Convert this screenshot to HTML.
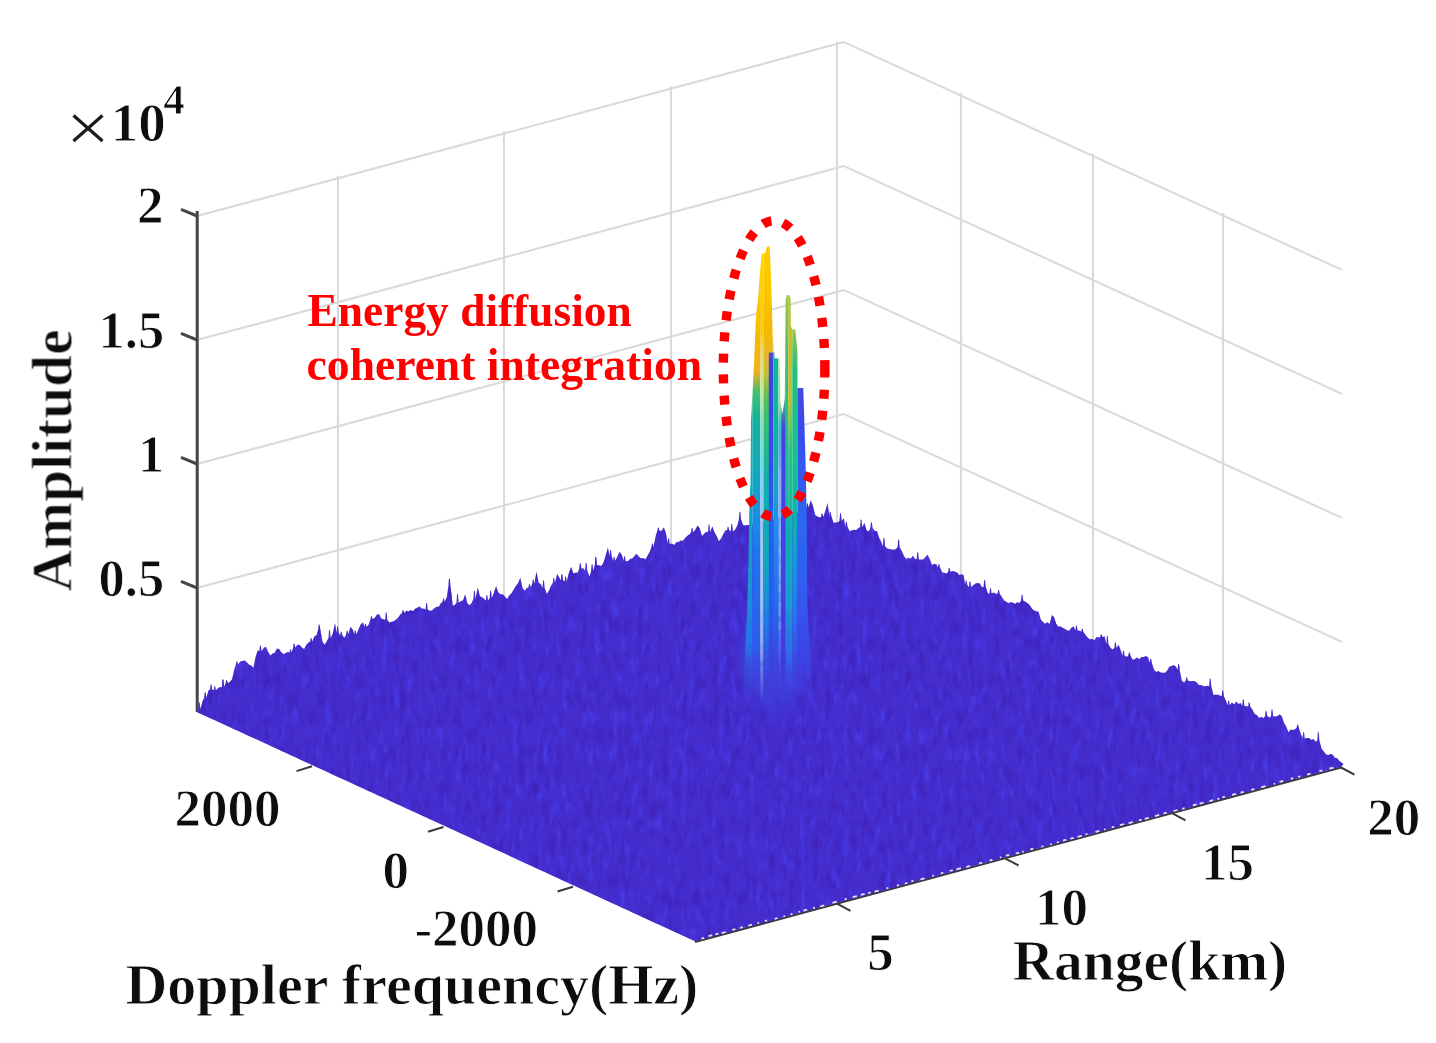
<!DOCTYPE html>
<html><head><meta charset="utf-8"><title>Range-Doppler surface</title>
<style>html,body{margin:0;padding:0;background:#fff;}svg{display:block;}
text{font-family:"Liberation Serif",serif;font-weight:bold;fill:#111;stroke:#fff;stroke-width:0.9px;stroke-linejoin:round;}</style></head>
<body><svg width="1436" height="1043" viewBox="0 0 1436 1043">
<defs>
<filter id="tex" x="0" y="0" width="100%" height="100%" color-interpolation-filters="sRGB">
 <feTurbulence type="fractalNoise" baseFrequency="0.16 0.055" numOctaves="2" seed="3" result="n"/>
 <feColorMatrix in="n" type="matrix" values="0 0 0 0 0.29  0 0 0 0 0.24  0 0 0 0 0.92  3 0 0 0 -1.5" />
</filter>
<filter id="tex2" x="0" y="0" width="100%" height="100%" color-interpolation-filters="sRGB">
 <feTurbulence type="fractalNoise" baseFrequency="0.16 0.055" numOctaves="2" seed="11" result="n"/>
 <feColorMatrix in="n" type="matrix" values="0 0 0 0 0.25  0 0 0 0 0.13  0 0 0 0 0.72  3 0 0 0 -1.5" />
</filter>
<filter id="blur6"><feGaussianBlur stdDeviation="7"/></filter>
<filter id="tblur" x="-5%" y="-5%" width="110%" height="110%"><feGaussianBlur stdDeviation="0.45"/></filter>
<filter id="gblur" x="-1%" y="-1%" width="102%" height="102%"><feGaussianBlur stdDeviation="0.5"/></filter>
<filter id="blur1"><feGaussianBlur stdDeviation="0.6"/></filter>
<clipPath id="surf"><polygon points="196.7,712.0 198.3,708.9 198.9,702.0 199.8,702.8 200.4,708.9 202.6,701.3 204.2,698.1 204.8,692.0 205.7,692.8 206.3,698.1 208.5,690.4 210.1,689.5 210.7,684.0 211.6,684.8 212.2,689.5 213.8,690.2 214.4,685.9 215.3,686.7 215.9,690.2 218.1,688.0 220.3,686.9 221.9,687.2 222.5,679.1 223.4,679.9 224.0,687.2 225.6,683.6 226.2,679.9 227.1,680.7 227.7,683.6 229.9,682.0 232.1,679.3 234.3,669.6 235.9,664.6 236.5,661.2 237.4,662.0 238.0,664.6 240.2,661.8 242.4,660.9 244.6,660.6 246.8,662.2 249.0,664.7 251.2,665.6 253.4,667.8 255.6,656.8 257.8,650.3 259.4,651.4 260.0,645.5 260.9,646.3 261.5,651.4 263.7,648.0 265.9,646.7 268.1,651.7 270.3,655.5 272.5,653.6 274.7,652.7 276.9,648.5 279.1,649.1 281.3,652.3 283.5,654.3 285.7,653.1 287.9,652.0 289.5,652.4 290.1,649.1 291.0,649.9 291.6,652.4 293.2,647.8 293.8,643.3 294.7,644.1 295.3,647.8 297.5,644.7 299.7,644.9 301.9,647.6 304.1,648.9 306.3,644.7 308.5,642.4 310.1,641.8 310.7,637.7 311.6,638.5 312.2,641.8 314.4,636.2 316.6,634.9 318.2,629.8 318.8,624.3 319.7,625.1 320.3,629.8 322.5,641.8 324.7,645.0 326.9,640.7 328.5,638.1 329.1,629.7 330.0,630.5 330.6,638.1 332.8,633.4 335.0,622.9 336.6,632.7 337.2,625.9 338.1,626.7 338.7,632.7 340.3,635.6 340.9,631.4 341.8,632.2 342.4,635.6 344.6,637.8 346.2,634.3 346.8,630.4 347.7,631.2 348.3,634.3 350.5,627.1 352.7,629.4 354.3,634.5 354.9,629.9 355.8,630.7 356.4,634.5 358.6,629.0 360.8,624.3 363.0,622.5 364.6,627.2 365.2,623.6 366.1,624.4 366.7,627.2 368.9,624.3 370.5,619.0 371.1,615.9 372.0,616.7 372.6,619.0 374.8,617.8 377.0,614.4 379.2,614.2 381.4,618.7 383.6,619.3 385.2,619.7 385.8,612.1 386.7,612.9 387.3,619.7 389.5,622.7 391.7,621.8 393.9,621.3 396.1,619.4 398.3,617.4 400.5,614.2 402.1,613.1 402.7,609.9 403.6,610.7 404.2,613.1 406.4,610.7 408.6,611.4 410.8,610.1 413.0,611.2 415.2,608.8 417.4,607.8 419.6,606.6 421.8,608.8 424.0,608.4 425.6,609.7 426.2,602.8 427.1,603.6 427.7,609.7 429.9,610.7 432.1,610.6 434.3,608.3 436.5,606.8 438.7,606.8 440.9,603.1 442.5,602.1 443.1,598.3 444.0,599.1 444.6,602.1 446.8,597.1 448.4,586.1 449.0,578.2 449.9,579.0 450.5,586.1 452.7,605.8 454.9,605.1 456.5,602.7 457.1,593.8 458.0,594.6 458.6,602.7 460.8,601.2 463.0,600.3 465.2,594.3 467.4,603.3 469.6,605.3 471.8,602.8 473.4,599.0 474.0,590.5 474.9,591.3 475.5,599.0 477.7,587.4 479.9,596.2 482.1,597.2 484.3,598.9 485.9,600.5 486.5,594.9 487.4,595.7 488.0,600.5 489.6,598.3 490.2,590.5 491.1,591.3 491.7,598.3 493.9,592.8 496.1,586.0 498.3,592.5 500.5,594.5 502.7,594.6 504.9,596.4 507.1,598.9 509.3,595.3 511.5,593.3 513.7,589.4 515.9,586.1 518.1,582.9 520.3,577.7 522.5,587.9 524.7,590.7 526.9,588.0 528.5,587.4 529.1,583.7 530.0,584.5 530.6,587.4 532.2,583.7 532.8,579.2 533.7,580.0 534.3,583.7 536.5,571.7 538.7,583.0 540.9,583.9 542.5,588.2 543.1,579.9 544.0,580.7 544.6,588.2 546.8,593.8 549.0,590.6 551.2,585.6 552.8,583.0 553.4,577.4 554.3,578.2 554.9,583.0 557.1,573.7 559.3,577.5 560.9,580.3 561.5,574.0 562.4,574.8 563.0,580.3 564.6,581.4 565.2,576.4 566.1,577.2 566.7,581.4 568.9,572.8 571.1,567.1 573.3,573.4 575.5,572.8 577.7,572.4 579.3,568.5 579.9,563.0 580.8,563.8 581.4,568.5 583.6,568.6 585.2,570.9 585.8,562.4 586.7,563.2 587.3,570.9 589.5,576.4 591.1,570.9 591.7,563.8 592.6,564.6 593.2,570.9 594.8,565.1 595.4,556.5 596.3,557.3 596.9,565.1 599.1,565.2 601.3,566.1 603.5,562.4 605.7,555.5 607.9,547.5 609.5,555.9 610.1,549.7 611.0,550.5 611.6,555.9 613.2,560.8 613.8,556.8 614.7,557.6 615.3,560.8 617.5,556.2 619.7,551.8 621.9,555.2 623.5,561.0 624.1,555.9 625.0,556.7 625.6,561.0 627.8,561.3 630.0,559.1 632.2,558.5 634.4,556.1 636.6,553.8 638.8,556.5 641.0,558.3 643.2,558.0 645.4,559.3 647.6,555.4 649.8,551.4 651.4,547.0 652.0,543.3 652.9,544.1 653.5,547.0 655.7,535.8 657.3,530.8 657.9,527.3 658.8,528.1 659.4,530.8 661.6,530.8 663.8,527.6 666.0,533.9 667.6,544.0 668.2,538.3 669.1,539.1 669.7,544.0 671.9,543.4 674.1,545.0 676.3,542.3 678.5,541.9 680.7,540.5 682.9,540.7 685.1,538.1 687.3,535.8 689.5,534.3 691.1,532.2 691.7,527.4 692.6,528.2 693.2,532.2 695.4,529.5 697.6,525.8 699.8,528.2 702.0,536.0 704.2,533.4 706.4,531.8 708.0,532.3 708.6,524.3 709.5,525.1 710.1,532.3 712.3,526.2 714.5,532.2 716.7,535.9 718.9,541.2 721.1,538.4 723.3,534.0 725.5,530.2 727.1,530.3 727.7,526.5 728.6,527.3 729.2,530.3 730.8,531.5 731.4,523.5 732.3,524.3 732.9,531.5 735.1,529.7 737.3,525.5 738.9,519.3 739.5,511.5 740.4,512.3 741.0,519.3 743.2,525.1 745.4,525.4 747.6,525.0 749.8,524.9 752.0,524.2 754.2,523.6 756.4,523.0 758.6,522.4 760.8,521.8 763.0,521.4 765.2,521.0 767.4,520.5 769.6,520.1 771.8,519.6 774.0,519.2 776.2,518.8 778.4,518.3 780.6,517.8 782.8,517.2 785.0,516.5 787.2,515.8 789.4,515.2 791.6,514.5 793.8,513.9 796.0,513.2 798.2,512.5 800.4,511.7 802.6,510.1 804.8,508.5 806.4,507.6 807.0,503.0 807.9,503.8 808.5,507.6 810.7,500.3 812.9,505.4 815.1,514.7 817.3,516.5 819.5,517.4 821.1,517.0 821.7,513.1 822.6,513.9 823.2,517.0 825.4,510.8 827.6,503.1 829.2,516.1 829.8,511.5 830.7,512.3 831.3,516.1 833.5,522.5 835.7,522.8 837.9,522.3 839.5,521.2 840.1,512.9 841.0,513.7 841.6,521.2 843.8,518.1 845.4,527.1 846.0,521.4 846.9,522.2 847.5,527.1 849.7,531.2 851.9,530.2 854.1,529.7 856.3,529.9 858.5,528.0 860.1,527.2 860.7,519.2 861.6,520.0 862.2,527.2 864.4,523.1 866.6,530.4 868.8,531.3 870.4,528.0 871.0,522.0 871.9,522.8 872.5,528.0 874.7,530.9 876.9,531.1 879.1,537.7 881.3,542.1 882.9,546.2 883.5,537.7 884.4,538.5 885.0,546.2 887.2,548.5 889.4,548.9 891.6,549.5 893.8,549.7 896.0,548.9 897.6,547.2 898.2,539.2 899.1,540.0 899.7,547.2 901.9,551.2 904.1,556.2 906.3,558.9 908.5,557.8 910.7,558.7 912.9,555.7 915.1,559.1 916.7,559.4 917.3,552.0 918.2,552.8 918.8,559.4 921.0,559.6 923.2,559.5 925.4,557.1 927.6,554.8 929.8,559.2 932.0,564.9 934.2,563.9 936.4,564.3 938.0,567.5 938.6,563.6 939.5,564.4 940.1,567.5 942.3,572.4 944.5,572.8 946.7,573.6 948.3,571.7 948.9,567.6 949.8,568.4 950.4,571.7 952.6,570.9 954.8,571.5 957.0,572.6 959.2,575.0 961.4,574.2 963.6,575.1 965.2,584.8 965.8,580.1 966.7,580.9 967.3,584.8 968.9,587.2 969.5,581.2 970.4,582.0 971.0,587.2 973.2,585.2 975.4,583.5 977.6,582.9 979.8,583.6 982.0,587.2 983.6,587.1 984.2,579.8 985.1,580.6 985.7,587.1 987.9,593.7 989.5,593.2 990.1,587.9 991.0,588.7 991.6,593.2 993.8,592.4 996.0,594.0 997.6,593.6 998.2,589.7 999.1,590.5 999.7,593.6 1001.9,597.3 1004.1,600.6 1006.3,601.7 1008.5,603.2 1010.7,602.1 1012.9,602.7 1015.1,603.9 1017.3,602.3 1019.5,602.9 1021.1,600.4 1021.7,594.3 1022.6,595.1 1023.2,600.4 1025.4,601.7 1027.6,603.2 1029.8,605.2 1032.0,608.8 1034.2,610.5 1036.4,611.2 1038.6,611.7 1040.8,619.6 1043.0,622.0 1045.2,623.7 1047.4,622.2 1049.6,624.0 1051.8,614.9 1054.0,617.0 1056.2,623.8 1058.4,626.7 1060.6,626.4 1062.8,628.0 1065.0,629.0 1067.2,630.5 1069.4,630.4 1071.6,627.5 1073.8,626.5 1075.4,630.6 1076.0,625.2 1076.9,626.0 1077.5,630.6 1079.7,630.7 1081.3,631.8 1081.9,628.5 1082.8,629.3 1083.4,631.8 1085.6,634.9 1087.8,637.7 1090.0,639.5 1092.2,638.8 1094.4,640.2 1096.6,637.0 1098.8,637.6 1100.4,637.1 1101.0,634.1 1101.9,634.9 1102.5,637.1 1104.7,636.4 1106.3,644.2 1106.9,635.4 1107.8,636.2 1108.4,644.2 1110.6,648.0 1112.8,649.4 1114.4,647.7 1115.0,641.9 1115.9,642.7 1116.5,647.7 1118.7,645.1 1120.9,650.7 1122.5,655.8 1123.1,650.3 1124.0,651.1 1124.6,655.8 1126.8,657.0 1128.4,655.6 1129.0,652.3 1129.9,653.1 1130.5,655.6 1132.7,659.8 1134.9,659.0 1137.1,657.6 1139.3,659.3 1141.5,657.0 1143.7,657.0 1145.9,655.9 1148.1,657.3 1149.7,663.2 1150.3,658.8 1151.2,659.6 1151.8,663.2 1154.0,669.5 1156.2,672.0 1158.4,670.9 1160.6,672.6 1162.8,672.7 1165.0,672.8 1167.2,670.4 1169.4,666.5 1171.6,666.1 1173.8,665.1 1176.0,666.8 1177.6,670.2 1178.2,663.9 1179.1,664.7 1179.7,670.2 1181.9,680.7 1184.1,682.4 1185.7,680.5 1186.3,676.9 1187.2,677.7 1187.8,680.5 1190.0,681.2 1192.2,681.0 1194.4,681.0 1196.6,682.3 1198.8,685.0 1201.0,685.1 1203.2,686.0 1205.4,686.2 1207.6,685.7 1209.2,686.5 1209.8,678.2 1210.7,679.0 1211.3,686.5 1213.5,694.9 1215.7,694.4 1217.9,694.7 1220.1,695.6 1221.7,696.2 1222.3,690.3 1223.2,691.1 1223.8,696.2 1226.0,700.9 1227.6,705.2 1228.2,700.5 1229.1,701.3 1229.7,705.2 1231.9,702.6 1234.1,704.5 1236.3,701.5 1238.5,703.9 1240.7,703.0 1242.3,705.9 1242.9,699.3 1243.8,700.1 1244.4,705.9 1246.6,706.3 1248.2,706.4 1248.8,702.2 1249.7,703.0 1250.3,706.4 1252.5,709.7 1254.7,714.0 1256.9,715.1 1259.1,717.9 1261.3,716.8 1263.5,718.3 1265.1,716.1 1265.7,710.7 1266.6,711.5 1267.2,716.1 1269.4,717.6 1271.0,716.2 1271.6,709.0 1272.5,709.8 1273.1,716.2 1275.3,716.6 1277.5,715.9 1279.7,714.3 1281.9,716.5 1284.1,723.1 1286.3,726.8 1288.5,732.5 1290.7,729.6 1292.9,730.0 1295.1,729.2 1296.7,727.4 1297.3,724.3 1298.2,725.1 1298.8,727.4 1301.0,734.6 1302.6,738.6 1303.2,731.9 1304.1,732.7 1304.7,738.6 1306.9,738.0 1309.1,738.0 1311.3,739.7 1313.5,739.1 1315.7,741.8 1317.3,740.6 1317.9,731.9 1318.8,732.7 1319.4,740.6 1321.6,749.1 1323.8,751.5 1326.0,754.3 1328.2,755.2 1330.4,754.1 1332.6,754.5 1334.8,757.7 1337.0,757.9 1339.2,760.8 1343.5,763.9 1341.0,766.7 1333.8,768.6 1326.6,770.6 1319.5,772.5 1312.3,774.5 1305.1,776.4 1297.9,778.3 1290.8,780.3 1283.6,782.2 1276.4,784.2 1269.2,786.1 1262.0,788.0 1254.9,790.0 1247.7,791.9 1240.5,793.8 1233.3,795.8 1226.2,797.7 1219.0,799.7 1211.8,801.6 1204.6,803.5 1197.4,805.5 1190.3,807.4 1183.1,809.4 1175.9,811.3 1168.7,813.2 1161.6,815.2 1154.4,817.1 1147.2,819.1 1140.0,821.0 1132.8,822.9 1125.7,824.9 1118.5,826.8 1111.3,828.7 1104.1,830.7 1097.0,832.6 1089.8,834.6 1082.6,836.5 1075.4,838.4 1068.2,840.4 1061.1,842.3 1053.9,844.3 1046.7,846.2 1039.5,848.1 1032.4,850.1 1025.2,852.0 1018.0,854.0 1010.8,855.9 1003.6,857.8 996.5,859.8 989.3,861.7 982.1,863.6 974.9,865.6 967.8,867.5 960.6,869.5 953.4,871.4 946.2,873.3 939.0,875.3 931.9,877.2 924.7,879.2 917.5,881.1 910.3,883.0 903.2,885.0 896.0,886.9 888.8,888.9 881.6,890.8 874.4,892.7 867.3,894.7 860.1,896.6 852.9,898.5 845.7,900.5 838.6,902.4 831.4,904.4 824.2,906.3 817.0,908.2 809.8,910.2 802.7,912.1 795.5,914.1 788.3,916.0 781.1,917.9 774.0,919.9 766.8,921.8 759.6,923.8 752.4,925.7 745.2,927.6 738.1,929.6 730.9,931.5 723.7,933.4 716.5,935.4 709.4,937.3 702.2,939.3 695.0,941.2 196.7,712.0"/></clipPath>
</defs>
<rect width="1436" height="1043" fill="#fff"/>

<g stroke="#dadada" stroke-width="2.1" fill="none" filter="url(#gblur)">
<line x1="197.0" y1="216.1" x2="844.0" y2="42.1"/>
<line x1="844.0" y1="42.1" x2="1342.0" y2="269.9"/>
<line x1="197.0" y1="340.1" x2="844.0" y2="166.1"/>
<line x1="844.0" y1="166.1" x2="1342.0" y2="393.9"/>
<line x1="197.0" y1="464.1" x2="844.0" y2="290.1"/>
<line x1="844.0" y1="290.1" x2="1342.0" y2="517.9"/>
<line x1="197.0" y1="588.1" x2="844.0" y2="414.1"/>
<line x1="844.0" y1="414.1" x2="1342.0" y2="641.9"/>
<line x1="338.0" y1="674.2" x2="338.0" y2="175.7"/>
<line x1="504.0" y1="629.5" x2="504.0" y2="131.0"/>
<line x1="671.0" y1="584.6" x2="671.0" y2="86.1"/>
<line x1="837.0" y1="539.9" x2="837.0" y2="41.4"/>
<line x1="961.0" y1="591.6" x2="961.0" y2="93.1"/>
<line x1="1093.0" y1="652.0" x2="1093.0" y2="153.5"/>
<line x1="1223.0" y1="711.4" x2="1223.0" y2="212.9"/>
</g>
<g stroke="#474747" stroke-width="3" fill="none" stroke-linecap="butt">
<line x1="197.2" y1="211" x2="197.2" y2="712"/>
<line x1="197.2" y1="216" x2="181" y2="209.4"/>
<line x1="197.2" y1="340" x2="181" y2="333.4"/>
<line x1="197.2" y1="464" x2="181" y2="457.4"/>
<line x1="197.2" y1="588" x2="181" y2="581.4"/>
</g>
<g stroke="#3a3a3a" stroke-width="2" fill="none">
<line x1="695" y1="942" x2="1342" y2="767.2"/>
<line x1="837" y1="903.6" x2="850.5" y2="910.8"/>
<line x1="1005" y1="858.3" x2="1018.5" y2="865.5"/>
<line x1="1172" y1="813.2" x2="1185.5" y2="820.4"/>
<line x1="1341" y1="767.5" x2="1354.5" y2="774.7"/>
<line x1="312" y1="766.3" x2="296.5" y2="771.1"/>
<line x1="443.5" y1="827.0" x2="428.0" y2="831.8"/>
<line x1="573" y1="886.7" x2="557.5" y2="891.5"/>
</g>
<g clip-path="url(#surf)">
<rect x="180" y="480" width="1180" height="480" fill="#442dcc"/>
<rect x="180" y="480" width="1180" height="480" filter="url(#tex)" opacity="0.8"/>
<rect x="180" y="480" width="1180" height="480" filter="url(#tex2)" opacity="0.8"/>
<ellipse cx="776" cy="650" rx="34" ry="60" fill="#3a55f0" opacity="0.45" filter="url(#blur6)"/>
</g>
<path d="M701.5,938.6L704.1,937.9M708.5,936.1L712.2,935.1M715.4,934.4L718.5,933.5M721.7,933.1L725.7,932.0M732.3,929.9L735.4,929.1M740.2,927.8L742.9,927.1M748.4,925.7L751.9,924.7M757.4,923.1L759.0,922.7M764.9,921.0L767.1,920.4M774.7,918.8L777.5,918.0M783.3,916.5L785.1,916.0M790.6,914.3L792.4,913.8M798.4,912.0L800.0,911.6M803.5,910.6L807.1,909.6M813.1,908.1L814.8,907.7M820.0,906.5L824.3,905.4M832.4,902.8L836.8,901.6M844.7,899.3L846.7,898.7M852.6,897.2L856.9,896.0M860.9,894.9L864.7,893.9M868.1,893.1L870.6,892.4M874.5,891.7L878.7,890.6M886.5,888.3L888.4,887.8M896.9,885.7L899.0,885.1M904.9,883.7L907.4,883.0M911.4,881.3L913.4,880.7M920.4,879.4L924.6,878.3M932.2,876.0L934.0,875.5M940.8,873.4L943.3,872.7M949.6,871.0L952.8,870.1M956.4,869.3L960.9,868.1M966.2,867.0L970.0,865.9M978.9,863.5L982.1,862.6M989.6,860.7L992.4,859.9M999.8,857.5L1001.4,857.1M1005.9,855.7L1009.3,854.8M1015.8,853.5L1019.2,852.6M1022.2,851.9L1023.8,851.5M1030.4,849.4L1033.2,848.7M1041.5,846.6L1043.4,846.1M1050.2,844.4L1051.8,844.0M1056.9,842.4L1058.7,841.9M1063.0,840.6L1066.2,839.7M1070.4,838.7L1073.7,837.8M1077.5,836.9L1081.8,835.8M1085.6,834.4L1087.4,834.0M1095.5,831.9L1099.3,830.9M1103.9,829.5L1105.4,829.1M1111.7,827.4L1114.3,826.7M1119.9,825.1L1124.1,824.0M1128.6,823.2L1132.8,822.1M1138.9,820.3L1141.6,819.6M1144.9,818.9L1148.7,817.8M1155.0,816.1L1159.2,814.9M1163.4,813.5L1166.7,812.6M1173.5,811.0L1177.4,810.0M1182.2,808.8L1184.6,808.1M1192.8,805.4L1196.6,804.4M1199.7,803.6L1203.6,802.5M1209.4,801.1L1213.1,800.1M1217.4,799.1L1219.2,798.6M1222.4,797.4L1224.9,796.7M1232.0,794.9L1236.0,793.8M1240.5,792.7L1243.7,791.9M1251.3,789.9L1254.4,789.1M1261.2,787.3L1265.5,786.1M1273.7,783.9L1275.2,783.5M1279.6,781.8L1283.3,780.8M1290.7,778.9L1293.2,778.2M1298.1,776.8L1300.3,776.3M1307.0,774.6L1310.6,773.7M1319.4,771.2L1322.3,770.4M1329.4,768.7L1333.4,767.6" stroke="#fff" stroke-width="1.8" opacity="0.85" fill="none"/>
<clipPath id="pk"><polygon points="741.0,706.0 744.5,662.0 746.8,620.0 748.6,560.0 749.3,510.0 750.6,480.0 751.0,420.0 752.8,387.0 754.3,358.0 755.7,322.0 756.6,310.0 758.0,300.0 759.2,283.0 760.5,266.0 761.6,254.0 765.3,253.0 766.8,247.0 769.2,246.0 769.8,249.0 770.9,275.0 771.8,300.0 772.6,330.0 773.3,345.0 773.6,352.2 774.4,352.6 774.6,358.2 779.3,358.4 780.2,380.0 780.4,402.0 782.4,414.0 784.8,398.0 785.1,360.0 785.6,300.0 786.9,295.2 789.9,295.2 790.7,300.0 790.8,326.0 792.3,329.4 795.2,329.2 795.7,333.0 797.4,352.0 797.5,388.0 803.3,388.0 804.0,410.0 805.5,460.0 806.8,520.0 807.3,600.0 809.0,640.0 812.0,680.0 816.0,706.0"/></clipPath>
<linearGradient id="pg1" gradientUnits="userSpaceOnUse" x1="0" y1="240" x2="0" y2="710"><stop offset="0.1277" stop-color="#f5b800"/><stop offset="0.2553" stop-color="#f0b420"/><stop offset="0.3064" stop-color="#e0b030"/><stop offset="0.3319" stop-color="#50c070"/><stop offset="0.3830" stop-color="#18b0a0"/><stop offset="0.5106" stop-color="#10a8c0"/><stop offset="0.6809" stop-color="#10a0c8"/><stop offset="0.8511" stop-color="#2080e8"/><stop offset="0.9787" stop-color="#4434d6"/></linearGradient>
<linearGradient id="pg2" gradientUnits="userSpaceOnUse" x1="0" y1="240" x2="0" y2="710"><stop offset="0.0277" stop-color="#ffd000"/><stop offset="0.1277" stop-color="#fac800"/><stop offset="0.2128" stop-color="#f5b800"/><stop offset="0.2809" stop-color="#f0b020"/><stop offset="0.3234" stop-color="#40c070"/><stop offset="0.3830" stop-color="#18b0a0"/><stop offset="0.5106" stop-color="#10a8c0"/><stop offset="0.5851" stop-color="#1890e0"/><stop offset="0.6809" stop-color="#2070f0"/><stop offset="0.8723" stop-color="#2c60ee"/><stop offset="0.9830" stop-color="#4434d6"/></linearGradient>
<linearGradient id="pg3" gradientUnits="userSpaceOnUse" x1="0" y1="240" x2="0" y2="710"><stop offset="0.0277" stop-color="#ffd400"/><stop offset="0.1915" stop-color="#f8c810"/><stop offset="0.2511" stop-color="#e8d880"/><stop offset="0.3191" stop-color="#c8e8a0"/><stop offset="0.3830" stop-color="#90e0c0"/><stop offset="0.4894" stop-color="#70d8e8"/><stop offset="0.5532" stop-color="#88c8f8"/><stop offset="0.6809" stop-color="#a0c8f8"/><stop offset="0.8511" stop-color="#90b8f8"/><stop offset="0.9787" stop-color="#5050e0"/></linearGradient>
<linearGradient id="pg4" gradientUnits="userSpaceOnUse" x1="0" y1="240" x2="0" y2="710"><stop offset="0.0128" stop-color="#ffcc00"/><stop offset="0.1277" stop-color="#fac400"/><stop offset="0.1915" stop-color="#f5b800"/><stop offset="0.2447" stop-color="#e6b828"/><stop offset="0.2809" stop-color="#c8c030"/><stop offset="0.3404" stop-color="#50c060"/><stop offset="0.4043" stop-color="#30c078"/><stop offset="0.5106" stop-color="#10b0a8"/><stop offset="0.6809" stop-color="#10a8b8"/><stop offset="0.8085" stop-color="#2080e8"/><stop offset="0.9787" stop-color="#4434d6"/></linearGradient>
<linearGradient id="pg5" gradientUnits="userSpaceOnUse" x1="0" y1="240" x2="0" y2="710"><stop offset="0.2383" stop-color="#6048c0"/><stop offset="0.2596" stop-color="#4040e8"/><stop offset="0.4468" stop-color="#3c48ec"/><stop offset="0.5957" stop-color="#2060f0"/><stop offset="0.7660" stop-color="#2860f0"/><stop offset="0.9787" stop-color="#4434d6"/></linearGradient>
<linearGradient id="pg6" gradientUnits="userSpaceOnUse" x1="0" y1="240" x2="0" y2="710"><stop offset="0.2511" stop-color="#10b898"/><stop offset="0.4468" stop-color="#10b0a8"/><stop offset="0.5106" stop-color="#18a8b8"/><stop offset="0.5957" stop-color="#2090e8"/><stop offset="0.7660" stop-color="#2070f0"/><stop offset="0.9787" stop-color="#4434d6"/></linearGradient>
<linearGradient id="pg7" gradientUnits="userSpaceOnUse" x1="0" y1="240" x2="0" y2="710"><stop offset="0.3404" stop-color="#a0e0a0"/><stop offset="0.3936" stop-color="#40c0c0"/><stop offset="0.4468" stop-color="#60a0f0"/><stop offset="0.5106" stop-color="#80b0f8"/><stop offset="0.6809" stop-color="#68a4f8"/><stop offset="0.8511" stop-color="#5070f0"/><stop offset="0.9787" stop-color="#4434d6"/></linearGradient>
<linearGradient id="pg8" gradientUnits="userSpaceOnUse" x1="0" y1="240" x2="0" y2="710"><stop offset="0.3362" stop-color="#40c070"/><stop offset="0.4000" stop-color="#4840e0"/><stop offset="0.6809" stop-color="#4444e4"/><stop offset="0.9787" stop-color="#4434d6"/></linearGradient>
<linearGradient id="pg9" gradientUnits="userSpaceOnUse" x1="0" y1="240" x2="0" y2="710"><stop offset="0.1170" stop-color="#a0c840"/><stop offset="0.2128" stop-color="#60c060"/><stop offset="0.2979" stop-color="#30c078"/><stop offset="0.4681" stop-color="#18b8a0"/><stop offset="0.6383" stop-color="#10b0b8"/><stop offset="0.7660" stop-color="#20a0d8"/><stop offset="0.8936" stop-color="#2c70ee"/><stop offset="0.9830" stop-color="#4434d6"/></linearGradient>
<linearGradient id="pg10" gradientUnits="userSpaceOnUse" x1="0" y1="240" x2="0" y2="710"><stop offset="0.1170" stop-color="#a8c840"/><stop offset="0.2128" stop-color="#c0c030"/><stop offset="0.3404" stop-color="#c8bc30"/><stop offset="0.3830" stop-color="#80c850"/><stop offset="0.4468" stop-color="#30c080"/><stop offset="0.5957" stop-color="#10b8a8"/><stop offset="0.7660" stop-color="#10a8c8"/><stop offset="0.8936" stop-color="#2c70ee"/><stop offset="0.9830" stop-color="#4434d6"/></linearGradient>
<linearGradient id="pg11" gradientUnits="userSpaceOnUse" x1="0" y1="240" x2="0" y2="710"><stop offset="0.1894" stop-color="#a0c840"/><stop offset="0.2340" stop-color="#60c060"/><stop offset="0.2766" stop-color="#20c080"/><stop offset="0.4681" stop-color="#18c090"/><stop offset="0.5957" stop-color="#10b0b0"/><stop offset="0.6809" stop-color="#1898e0"/><stop offset="0.8085" stop-color="#2c70ee"/><stop offset="0.9787" stop-color="#4434d6"/></linearGradient>
<linearGradient id="pg12" gradientUnits="userSpaceOnUse" x1="0" y1="240" x2="0" y2="710"><stop offset="0.3149" stop-color="#4848e0"/><stop offset="0.3830" stop-color="#3a48ea"/><stop offset="0.4894" stop-color="#3458f0"/><stop offset="0.5957" stop-color="#2c68f0"/><stop offset="0.7234" stop-color="#3060f0"/><stop offset="0.8723" stop-color="#3a48ea"/><stop offset="0.9787" stop-color="#4434d6"/></linearGradient>
<linearGradient id="fadeg" gradientUnits="userSpaceOnUse" x1="0" y1="600" x2="0" y2="712"><stop offset="0" stop-color="#fff"/><stop offset="0.45" stop-color="#fff" stop-opacity="0.85"/><stop offset="1" stop-color="#fff" stop-opacity="0"/></linearGradient>
<mask id="pkfade" maskUnits="userSpaceOnUse" x="700" y="200" width="150" height="530"><rect x="700" y="200" width="150" height="530" fill="url(#fadeg)"/></mask>
<g mask="url(#pkfade)"><g clip-path="url(#pk)"><g filter="url(#blur1)">
<rect x="738" y="240" width="14.3" height="470.0" fill="url(#pg1)"/>
<rect x="752.3" y="240" width="7.8" height="470.0" fill="url(#pg2)"/>
<rect x="760.1" y="240" width="3.4" height="470.0" fill="url(#pg3)"/>
<rect x="763.5" y="240" width="9.3" height="470.0" fill="url(#pg4)"/>
<rect x="768.8" y="352.6" width="4.6" height="357.4" fill="url(#pg5)"/>
<rect x="773.4" y="240" width="5.0" height="470.0" fill="url(#pg6)"/>
<rect x="778.4" y="240" width="2.8" height="470.0" fill="url(#pg7)"/>
<rect x="781.2" y="240" width="4.6" height="470.0" fill="url(#pg8)"/>
<rect x="785.6" y="240" width="2.6" height="470.0" fill="url(#pg9)"/>
<rect x="788.2" y="240" width="4.1" height="470.0" fill="url(#pg10)"/>
<rect x="792.3" y="240" width="5.2" height="470.0" fill="url(#pg11)"/>
<rect x="797.5" y="240" width="22.5" height="470.0" fill="url(#pg12)"/>
</g>
<g filter="url(#blur1)" opacity="0.75">
<line x1="761.8" y1="470" x2="761.8" y2="698" stroke="#a8c4f4" stroke-width="2.4" stroke-dasharray="22 4 12 6 30 5 16 8 40 10" opacity="0.8"/>
<line x1="779.6" y1="470" x2="779.6" y2="640" stroke="#a0bcf4" stroke-width="2" stroke-dasharray="8 10 14 6" opacity="0.6"/>
</g>
</g></g>
<path d="M824.85,368.68 A50.77,148.12 0 0 1 723.31,368.68 A50.77,148.12 0 0 1 824.85,368.68" fill="none" stroke="#ff0000" stroke-width="9.4" stroke-dasharray="9.0 12.092" stroke-dashoffset="0" filter="url(#blur1)"/>
<g filter="url(#tblur)">
<g stroke="#1a1a1a" stroke-width="3.2" stroke-linecap="butt"><line x1="73.5" y1="115.5" x2="102.5" y2="141"/><line x1="102.5" y1="115.5" x2="73.5" y2="141"/></g>
<text x="110.8" y="141" font-size="55" text-anchor="start" >10</text>
<text x="163.2" y="114.3" font-size="43" text-anchor="start" >4</text>
<text x="163.4" y="222.9" font-size="53" text-anchor="end" >2</text>
<text x="164.2" y="347.5" font-size="52.5" text-anchor="end" >1.5</text>
<text x="164.2" y="471.5" font-size="52.5" text-anchor="end" >1</text>
<text x="164.2" y="596" font-size="52.5" text-anchor="end" >0.5</text>
<text transform="translate(71.4,460.4) rotate(-90)" font-size="57.5" text-anchor="middle">Amplitude</text>
<text x="227.6" y="826.4" font-size="53" text-anchor="middle" >2000</text>
<text x="395.8" y="888.2" font-size="53" text-anchor="middle" >0</text>
<text x="476.3" y="945.5" font-size="53" text-anchor="middle" >-2000</text>
<text x="411.9" y="1004.3" font-size="58" text-anchor="middle" >Doppler frequency(Hz)</text>
<text x="880.6" y="969.6" font-size="53" text-anchor="middle" >5</text>
<text x="1061.4" y="924.6" font-size="53" text-anchor="middle" >10</text>
<text x="1227.5" y="879.8" font-size="53" text-anchor="middle" >15</text>
<text x="1393.8" y="835" font-size="53" text-anchor="middle" >20</text>
<text x="1149.9" y="980" font-size="57.5" text-anchor="middle" >Range(km)</text>
<g style="fill:#ff0000">
<text x="307.6" y="326.4" font-size="45.4" style="fill:#ff0000;stroke:none">Energy diffusion</text>
<text x="306.6" y="380.2" font-size="45.6" style="fill:#ff0000;stroke:none">coherent integration</text>
</g>
</g>
</svg></body></html>
